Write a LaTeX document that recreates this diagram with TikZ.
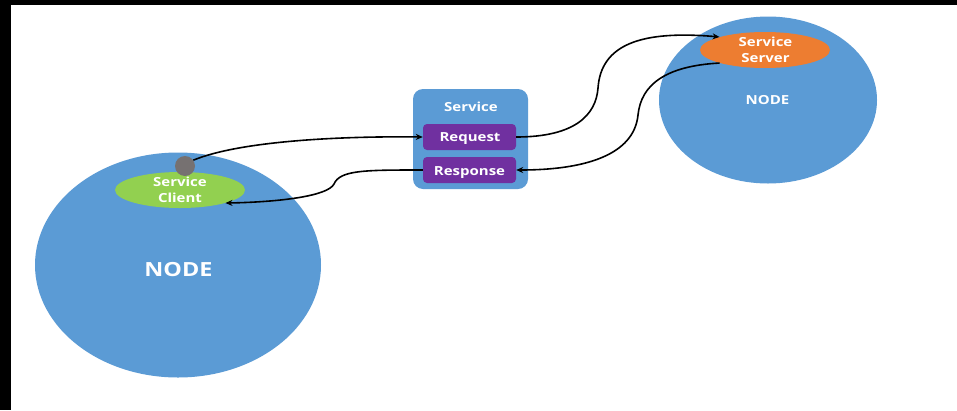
\documentclass[tikz,border=0pt]{standalone}
\usepackage{fontspec}
\setmainfont{Open Sans}[FakeStretch=1.2]
\usetikzlibrary{shapes.geometric,arrows.meta}
\definecolor{nodeblue}{HTML}{5B9BD5}
\definecolor{srvorange}{HTML}{ED7D31}
\definecolor{cligreen}{HTML}{92D050}
\definecolor{msgpurple}{HTML}{7030A0}
\definecolor{dotgray}{HTML}{767171}
\tikzset{
  rosnode/.style={ellipse, fill=nodeblue, draw=none, inner sep=0pt},
  endpoint/.style={ellipse, draw=none, inner sep=0pt, minimum width=130pt, minimum height=36pt},
  wtext/.style={text=white, font=\bfseries\fontsize{12.5}{16}\selectfont, align=center, inner sep=0pt, anchor=base},
  msgbox/.style={fill=msgpurple, draw=none, rounded corners=4pt, minimum width=93pt, minimum height=26pt, inner sep=0pt},
  link/.style={draw=black, line width=1.6pt, -{Stealth[length=7pt,width=6pt]}},
}
\begin{document}
\begin{tikzpicture}[x=1pt,y=-1pt]
  % page frame
  \useasboundingbox (0,0) rectangle (957,410);
  \fill[black] (0,0) rectangle (957,410);
  \fill[white] (11,5) rectangle (957,410);

  % the two ROS nodes
  \node[rosnode, minimum width=286pt, minimum height=225pt] (nodeL) at (178,265) {};
  \node[wtext, font=\bfseries\fontsize{19.5}{22}\selectfont] (nodeLtxt) at (178.5,276.5) {NODE};
  \node[rosnode, minimum width=218pt, minimum height=167pt] (nodeR) at (768,100) {};
  \node[wtext] (nodeRtxt) at (767.5,104.5) {NODE};

  % service server and client endpoints (base anchor sits on the second line)
  \node[endpoint, fill=srvorange] (srv) at (765,50) {};
  \node[wtext] (srvtxt) at (765.5,62.5) {Service\\Server};
  \node[endpoint, fill=cligreen] (cli) at (180,190) {};
  \node[wtext] (clitxt) at (180,202.5) {Service\\Client};
  \node[circle, fill=dotgray, draw=none, minimum size=20pt, inner sep=0pt] (dot) at (185,166) {};

  % service definition box with request and response
  \node[fill=nodeblue, draw=none, rounded corners=10pt, minimum width=115pt, minimum height=100pt, inner sep=0pt] (svc) at (470.5,139) {};
  \node[wtext] (svctxt) at (471,111) {Service};
  \node[msgbox] (req) at (469.5,137) {};
  \node[wtext] (reqtxt) at (470,141.5) {Request};
  \node[msgbox] (resp) at (469.5,170) {};
  \node[wtext] (resptxt) at (469.5,175) {Response};

  % message flow
  \draw[link] (dot.35) .. controls (240,141) and (340,136) .. (req.west);
  \draw[link] (req.east) .. controls (575,137) and (596,115) .. (598,88)
              .. controls (601,45) and (640,30) .. (srv.164);
  \draw[link] (srv.196) .. controls (665,66) and (641,85) .. (638,115)
              .. controls (634,155) and (585,170) .. (resp.east);
  \draw[link] (resp.west) .. controls (365,170) and (340,170) .. (334,184)
              .. controls (328,196) and (280,202) .. (cli.-16);
\end{tikzpicture}
\end{document}
